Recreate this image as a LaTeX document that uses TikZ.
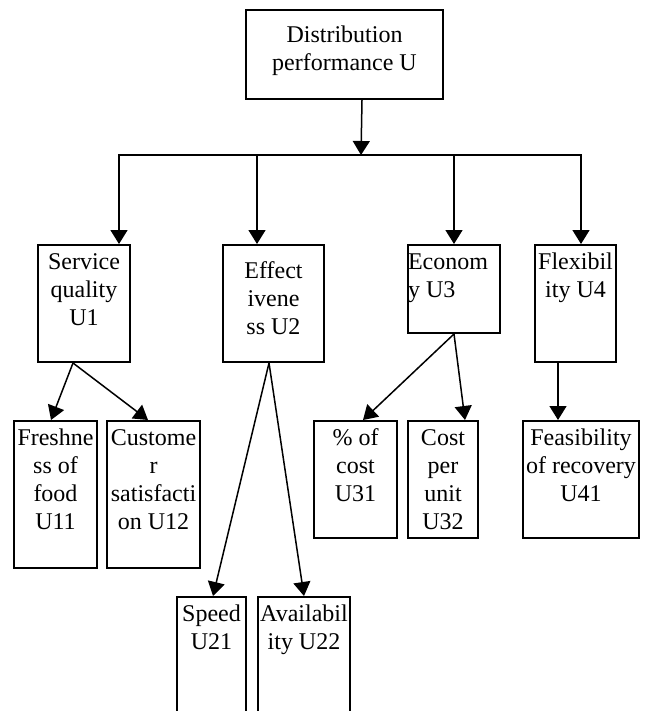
\documentclass[tikz,border=0pt]{standalone}
\usepackage{fontspec}
\setmainfont{Liberation Serif}
\usetikzlibrary{arrows.meta}
\newcommand{\cell}[4][2.2pt]{\parbox[t][#3][t]{#2}{\vspace*{#1}\centering\strut #4}}

\begin{document}
\begin{tikzpicture}[x=0.5pt,y=-0.5pt,->,>={Triangle[length=7pt,width=8.5pt]},
    line width=0.75pt,
    box/.style={draw,line width=1pt,anchor=north west,inner sep=0pt,font=\fontsize{12}{14}\selectfont}]

   \path[use as bounding box,clip] (0,0) rectangle (644,711);

   \node[box] (u) at (245,9) {\cell[6.7pt]{98.5pt}{44.5pt}{Distribution\\performance U}};

   \node[box] (u1) at (37,244) {\cell{46pt}{58.5pt}{Service\\quality\\U1}};
   \node[box] (u2) at (222,244) {\cell[6.7pt]{50.5pt}{58.5pt}{Effect\\ivene\\ss U2}};
   \node[box] (u3) at (407,244) {\cell{46pt}{44pt}{\raggedright Econom\\y U3}};
   \node[box] (u4) at (534,244) {\cell{40.5pt}{58.5pt}{Flexibil\\ity U4}};

   \coordinate (hub) at (361,155);
   \draw ([xshift=8.75pt]u.south) -- (hub);
   \draw (hub) -| ([xshift=17.5pt]u1.north);
   \draw (hub) -| ([xshift=-8.25pt]u2.north);
   \draw (hub) -| (u3.north);
   \draw (hub) -| ([xshift=2.75pt]u4.north);

   \node[box] (u11) at (13,420) {\cell{41.5pt}{73.5pt}{Freshne\\ss of\\food\\U11}};
   \node[box] (u12) at (106,420) {\cell{46.5pt}{73.5pt}{Custome\\r\\satisfacti\\on U12}};
   \draw ([xshift=-5.5pt]u1.south) -- ([xshift=-2.25pt]u11.north);
   \draw ([xshift=-5.5pt]u1.south) -- ([xshift=-2.75pt]u12.north);

   \node[box] (u21) at (176,596) {\cell{34.5pt}{65pt}{Speed\\U21}};
   \node[box] (u22) at (257,596) {\cell{46pt}{65pt}{Availabil\\ity U22}};
   \draw ([xshift=-2.25pt]u2.south) -- ([xshift=0.75pt]u21.north);
   \draw ([xshift=-2.25pt]u2.south) -- (u22.north);

   \node[box] (u31) at (313,420) {\cell{41.5pt}{58.5pt}{\% of\\cost\\U31}};
   \node[box] (u32) at (407,420) {\cell{35pt}{58.5pt}{Cost\\per\\unit\\U32}};
   \draw (u3.south) -- ([xshift=3.75pt]u31.north);
   \draw (u3.south) -- ([xshift=11pt]u32.north);

   \node[box] (u41) at (522,420) {\cell{58pt}{58.5pt}{Feasibility\\of recovery\\U41}};
   \draw ([xshift=-8.75pt]u4.south) -- ([xshift=-11.5pt]u41.north);
  \end{tikzpicture}
\end{document}
